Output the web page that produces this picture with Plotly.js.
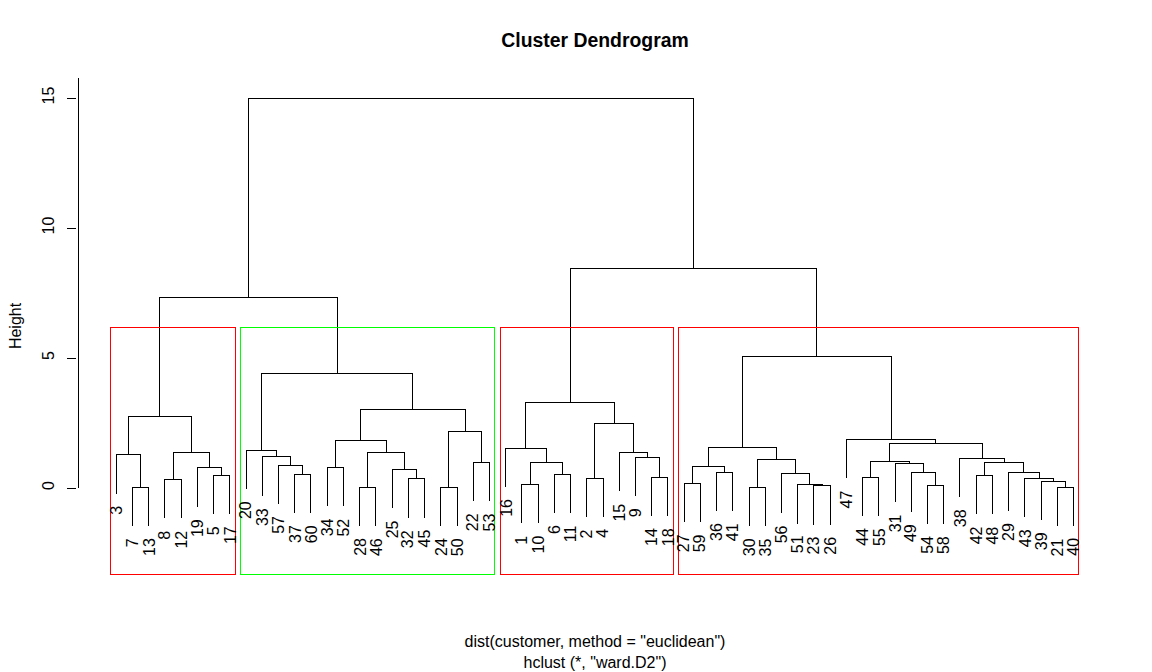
<!DOCTYPE html>
<html><head><meta charset="utf-8">
<script src="https://cdn.plot.ly/plotly-3.0.1.min.js"></script>
<style>html,body{margin:0;padding:0;background:#fff}#chart{width:1152px;height:672px}
#chart path{shape-rendering:crispEdges}</style>
</head><body><div id="chart"></div>
<script>
// hclust merge matrix (R convention: negative = observation, positive = earlier merge row)
const mergeLeft = [-7,-3,-8,-5,-19,3,2,
  -37,-57,-33,-20,-34,-28,-32,-25,13,12,-24,-22,18,17,11,7,
  -1,-6,24,-16,-2,-14,-9,-15,28,27,
  -27,-36,34,-30,-23,-51,-56,37,36,-44,-54,-49,-31,43,-21,-39,-43,-29,-42,52,-38,47,-47,42,33,23];
const mergeRight = [-13,1,-12,-17,4,5,6,
  -60,8,9,10,-52,-46,-45,14,15,16,-50,-53,19,20,21,22,
  -10,-11,25,26,-4,-18,29,30,31,32,
  -59,-41,35,-35,-26,38,39,40,41,-55,-58,44,45,46,-40,48,49,50,-48,51,53,54,55,56,57,58];
const mergeHeight = [0.03,1.27,0.33,0.49,0.78,1.37,2.76,
  0.53,0.87,1.20,1.46,0.80,0.03,0.35,0.72,1.38,1.84,0.03,1.00,2.18,3.03,4.41,7.33,
  0.14,0.53,0.99,1.53,0.37,0.41,1.18,1.37,2.49,3.30,
  0.19,0.60,0.83,0.03,0.09,0.13,0.54,1.10,1.57,0.41,0.10,0.58,0.95,1.01,0.03,0.26,0.37,0.60,0.49,0.97,1.14,1.72,1.88,5.04,8.46,15.0];
const numClusters = 4;
const clusterColors = ["#FF0000", "#00FF00", "#FF0000", "#FF0000"];
const yTickValues = [0, 5, 10, 15];
const yTickLabels = ["0", "5", "10", "15"];
const titleText = "Cluster Dendrogram";
const xTitleText = 'dist(customer, method = "euclidean")<br>hclust (*, "ward.D2")';
const yTitleText = "Height";

const FONT = "Liberation Sans, Arial, Helvetica, sans-serif";

// ---- derive leaf order and segment geometry from the merge matrix ----
const nMerge = mergeHeight.length;
const order = [];
(function visit(node) {
  if (node < 0) { order.push(-node); return; }
  visit(mergeLeft[node - 1]); visit(mergeRight[node - 1]);
})(nMerge);
const pos = {};
order.forEach((lab, i) => { pos[lab] = i + 1; });
const hMax = Math.max(...mergeHeight), hMin = Math.min(...mergeHeight);
const hang = 0.1 * (hMax - hMin);

const nodeX = [];
const xs = [], ys = [];
const leafBottom = {};
for (let i = 0; i < nMerge; i++) {
  const h = mergeHeight[i];
  const ends = [mergeLeft[i], mergeRight[i]].map(c => {
    if (c < 0) { leafBottom[-c] = h - hang; return [pos[-c], h - hang]; }
    return [nodeX[c - 1], mergeHeight[c - 1]];
  });
  nodeX[i] = (ends[0][0] + ends[1][0]) / 2;
  xs.push(ends[0][0], ends[0][0], ends[1][0], ends[1][0], null);
  ys.push(ends[0][1], h, h, ends[1][1], null);
}

// ---- clusters (rect.hclust, k = numClusters) ----
const sortedH = mergeHeight.slice().sort((a, b) => b - a);
const cutH = (sortedH[numClusters - 2] + sortedH[numClusters - 1]) / 2;
const clusterNodes = [];
(function collect(node) {
  if (node < 0 || mergeHeight[node - 1] < cutH) { clusterNodes.push(node); return; }
  collect(mergeLeft[node - 1]); collect(mergeRight[node - 1]);
})(nMerge);
function leafRange(node) {
  if (node < 0) return [pos[-node], pos[-node]];
  const a = leafRange(mergeLeft[node - 1]), b = leafRange(mergeRight[node - 1]);
  return [Math.min(a[0], b[0]), Math.max(a[1], b[1])];
}

// ---- layout geometry ----
const nLeaf = order.length;
const xRange = [-1.4222, nLeaf + 2.434];
const yRange = [-3.346, 15.808];
const yUsrBottom = -3.3077;
const yUsrTop = 15.769;
const xUsrLeft = 1 - 0.04 * (nLeaf - 1);

const shapes = [];
clusterNodes.map(leafRange).sort((a, b) => a[0] - b[0]).forEach((r, i) => {
  shapes.push({type: 'rect', xref: 'x', yref: 'y',
    x0: r[0] - 0.34, x1: r[1] + 0.33, y0: yUsrBottom, y1: cutH,
    line: {color: clusterColors[i % clusterColors.length], width: 1}, fillcolor: 'rgba(0,0,0,0)'});
});
shapes.push({type: 'line', xref: 'x', yref: 'y', x0: xUsrLeft, x1: xUsrLeft, y0: yTickValues[0], y1: yUsrTop,
  line: {color: '#000', width: 1}});

const annotations = order.map(lab => ({
  x: pos[lab], y: leafBottom[lab], xref: 'x', yref: 'y',
  text: String(lab), showarrow: false, textangle: -90,
  xanchor: 'center', yanchor: 'top', yshift: -10,
  font: {family: FONT, size: 16, color: '#000'}
}));

const trace = {
  x: xs, y: ys, type: 'scatter', mode: 'lines',
  line: {color: '#000', width: 1}, hoverinfo: 'skip', connectgaps: false, showlegend: false
};

const layout = {
  width: 1152, height: 672,
  margin: {l: 77, r: 39, t: 77, b: 97, pad: 0},
  paper_bgcolor: '#fff', plot_bgcolor: '#fff',
  font: {family: FONT, size: 16, color: '#000'},
  title: {text: '<b>' + titleText + '</b>', font: {family: FONT, size: 19.4, color: '#000'},
    x: 0.5, xref: 'paper', xanchor: 'center', y: 1 - 40 / 672, yref: 'container', yanchor: 'middle'},
  xaxis: {range: xRange, showgrid: false, zeroline: false, showline: false, ticks: '',
    showticklabels: false, fixedrange: true,
    title: {text: xTitleText, font: {family: FONT, size: 16, color: '#000'}, standoff: 60}},
  yaxis: {range: yRange, showgrid: false, zeroline: false, showline: false,
    tickmode: 'array', tickvals: yTickValues, ticktext: yTickLabels,
    ticks: 'outside', ticklen: 9, tickwidth: 1, tickcolor: '#000', tickangle: -90,
    ticklabelstandoff: 7,
    tickfont: {family: FONT, size: 16, color: '#000'}, fixedrange: true,
    title: {text: yTitleText, font: {family: FONT, size: 16, color: '#000'}, standoff: 13}},
  shapes: shapes,
  annotations: annotations,
  showlegend: false
};

Plotly.newPlot('chart', [trace], layout, {displayModeBar: false, staticPlot: true});
</script>
</body></html>
